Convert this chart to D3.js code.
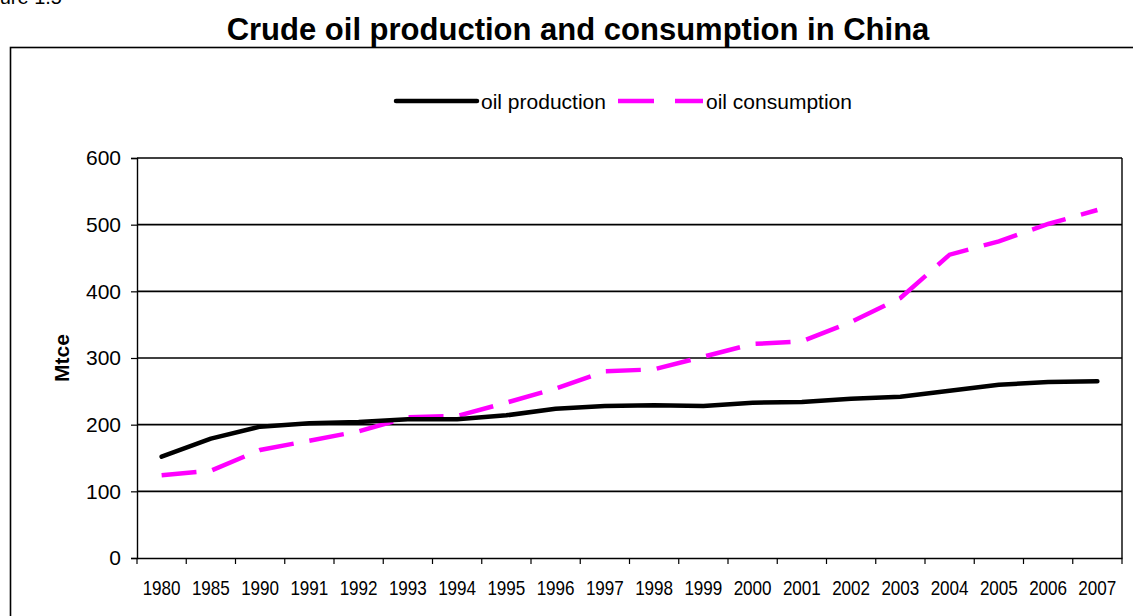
<!DOCTYPE html>
<html>
<head>
<meta charset="utf-8">
<script src="https://cdn.jsdelivr.net/npm/d3@7"></script>
<style>
  body { margin: 0; background: #fff; }
  svg { display: block; font-family: "Liberation Sans", Arial, sans-serif; }
</style>
</head>
<body>
<div id="chart"></div>
<script>
// Daten
const years = ["1980", "1985", "1990", "1991", "1992", "1993", "1994", "1995", "1996", "1997",
               "1998", "1999", "2000", "2001", "2002", "2003", "2004", "2005", "2006", "2007"];
const production = [152, 179, 197, 202, 204, 208, 208, 214, 224, 228,
                    229, 228, 233, 234, 239, 242, 251, 260, 264, 265];
const consumption = [124, 131, 162, 176, 190, 211, 213, 233, 254, 280,
                     283, 302, 321, 325, 354, 390, 455, 475, 501, 522];
const yTicks = [0, 100, 200, 300, 400, 500, 600];

// Konfiguration
const W = 1133, H = 616;
const margin = {top: 158, right: 11, bottom: 58, left: 137};
const width = W - margin.left - margin.right;
const height = H - margin.top - margin.bottom;

const root = d3.select("#chart").append("svg")
    .attr("width", W)
    .attr("height", H);

// Rahmen und Titel
root.append("rect")
    .attr("x", 10.5).attr("y", 47.5)
    .attr("width", 1140).attr("height", 600)
    .attr("fill", "none").attr("stroke", "#000").attr("stroke-width", 1.6);

// Beschriftung oben links (wie im Original am Rand abgeschnitten)
root.append("text")
    .attr("x", 62).attr("y", 4)
    .attr("text-anchor", "end")
    .attr("font-size", "20px")
    .text("Figure 1.5");

root.append("text")
    .attr("x", 578).attr("y", 40)
    .attr("text-anchor", "middle")
    .attr("font-size", "31px")
    .attr("font-weight", "bold")
    .text("Crude oil production and consumption in China");

const svg = root.append("g")
    .attr("transform", `translate(${margin.left},${margin.top})`);

// Skalen
const x = d3.scaleBand().domain(years).range([0, width]);
const y = d3.scaleLinear().domain([0, 600]).range([height, 0]);

// Gitterlinien
svg.append("g")
    .selectAll("line")
    .data(yTicks.filter(d => d > 0))
    .join("line")
    .attr("x1", 0).attr("x2", width)
    .attr("y1", d => y(d)).attr("y2", d => y(d))
    .attr("stroke", "#000").attr("stroke-width", 1.6);

svg.append("line")
    .attr("x1", width).attr("x2", width)
    .attr("y1", 0).attr("y2", height)
    .attr("stroke", "#000").attr("stroke-width", 1.4);

// Y-Achse
const yAxis = svg.append("g")
    .call(d3.axisLeft(y).tickValues(yTicks).tickSize(6).tickPadding(10));
yAxis.select(".domain").attr("stroke-width", 1.4);
yAxis.selectAll(".tick line").attr("stroke-width", 1.2);
yAxis.selectAll("text")
    .attr("font-size", "21px")
    .attr("font-family", "Liberation Sans, Arial, sans-serif")
    .attr("fill", "#000");

// X-Achse (Striche zwischen den Kategorien)
const xAxis = svg.append("g")
    .attr("transform", `translate(0,${height})`)
    .call(d3.axisBottom(x).tickSize(0).tickPadding(22));
xAxis.select(".domain").attr("stroke-width", 1.4);
xAxis.selectAll("text")
    .attr("font-size", "21px")
    .attr("font-family", "Liberation Sans, Arial, sans-serif")
    .attr("fill", "#000")
    .attr("textLength", 38)
    .attr("lengthAdjust", "spacingAndGlyphs");

svg.append("g")
    .selectAll("line")
    .data(years.concat(["end"]))
    .join("line")
    .attr("x1", (d, i) => i * x.step()).attr("x2", (d, i) => i * x.step())
    .attr("y1", height).attr("y2", height + 6)
    .attr("stroke", "#000").attr("stroke-width", 1.2);

// Achsentitel
svg.append("text")
    .attr("transform", `translate(${62 - margin.left},${height / 2}) rotate(-90)`)
    .attr("text-anchor", "middle")
    .attr("dy", "0.35em")
    .attr("font-size", "21px")
    .attr("font-weight", "bold")
    .text("Mtce");

// Linien
const line = d3.line()
    .x((d, i) => x(years[i]) + x.bandwidth() / 2)
    .y(d => y(d));

svg.append("path")
    .datum(consumption)
    .attr("d", line)
    .attr("fill", "none")
    .attr("stroke", "#ff00ff")
    .attr("stroke-width", 4.5)
    .attr("stroke-dasharray", "35,16");

svg.append("path")
    .datum(production)
    .attr("d", line)
    .attr("fill", "none")
    .attr("stroke", "#000")
    .attr("stroke-width", 4.5)
    .attr("stroke-linejoin", "round")
    .attr("stroke-linecap", "round");

// Legende
const legend = root.append("g");
legend.append("line")
    .attr("x1", 396).attr("x2", 477).attr("y1", 101).attr("y2", 101)
    .attr("stroke", "#000").attr("stroke-width", 4.5).attr("stroke-linecap", "round");
legend.append("text")
    .attr("x", 481).attr("y", 109)
    .attr("font-size", "21px")
    .text("oil production");
legend.append("line")
    .attr("x1", 618).attr("x2", 703).attr("y1", 101).attr("y2", 101)
    .attr("stroke", "#ff00ff").attr("stroke-width", 4.5).attr("stroke-dasharray", "36,21");
legend.append("text")
    .attr("x", 706).attr("y", 109)
    .attr("font-size", "21px")
    .text("oil consumption");
</script>
</body>
</html>
